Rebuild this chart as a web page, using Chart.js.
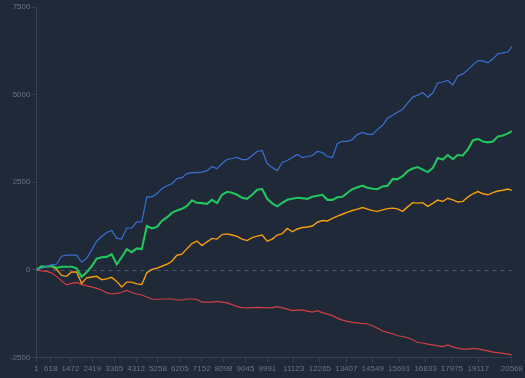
<!DOCTYPE html>
<html>
<head>
<meta charset="utf-8">
<script src="https://cdn.jsdelivr.net/npm/chart.js@4/dist/chart.umd.min.js"></script>
<style>
  html, body { margin: 0; padding: 0; background: #1f2937; }
  #wrap { width: 525px; height: 378px; }
</style>
</head>
<body>
<div id="wrap"><canvas id="c" width="525" height="378"></canvas></div>
<script>
const tradeNumbers = [1, 218, 435, 652, 869, 1086, 1303, 1520, 1737, 1954,
  2171, 2388, 2605, 2822, 3039, 3256, 3473, 3690, 3907, 4124,
  4341, 4558, 4775, 4992, 5209, 5426, 5643, 5860, 6077, 6294,
  6511, 6728, 6945, 7162, 7379, 7596, 7813, 8030, 8247, 8464,
  8681, 8898, 9115, 9332, 9549, 9766, 9983, 10200, 10417, 10634,
  10851, 11068, 11285, 11502, 11719, 11936, 12153, 12370, 12587, 12804,
  13021, 13238, 13455, 13672, 13889, 14106, 14323, 14540, 14757, 14974,
  15191, 15408, 15625, 15842, 16059, 16276, 16493, 16710, 16927, 17144,
  17361, 17578, 17795, 18012, 18229, 18446, 18663, 18880, 19097, 19314,
  19531, 19748, 19965, 20182, 20399, 20568];

const blueSeries = [0, 43, 101, 144, 158, 388, 417, 417, 417, 216,
  330, 560, 819, 948, 1063, 1121, 905, 877, 1193, 1193,
  1365, 1365, 2084, 2084, 2170, 2314, 2400, 2457, 2601, 2630,
  2745, 2773, 2773, 2788, 2831, 2946, 2888, 3032, 3147, 3176,
  3205, 3147, 3147, 3262, 3377, 3405, 3032, 2917, 2831, 3061,
  3118, 3205, 3291, 3205, 3233, 3262, 3377, 3348, 3233, 3205,
  3607, 3664, 3664, 3722, 3866, 3923, 3866, 3866, 4009, 4124,
  4325, 4411, 4498, 4584, 4756, 4929, 4986, 5058, 4929, 5044,
  5331, 5360, 5403, 5274, 5533, 5590, 5705, 5849, 5964, 5964,
  5906, 6021, 6165, 6193, 6222, 6366];

const greenSeries = [0, 101, 86, 115, 57, 86, 86, 86, 43, -201,
  -72, 101, 316, 359, 368, 445, 158, 359, 589, 503,
  609, 589, 1250, 1184, 1221, 1394, 1494, 1624, 1696, 1739,
  1825, 1983, 1911, 1903, 1882, 1997, 1903, 2141, 2227, 2199,
  2141, 2055, 2026, 2141, 2285, 2305, 2026, 1897, 1811, 1911,
  1997, 2026, 2055, 2041, 2026, 2084, 2112, 2141, 1997, 1997,
  2069, 2084, 2199, 2299, 2357, 2400, 2342, 2314, 2299, 2380,
  2400, 2587, 2587, 2673, 2817, 2888, 2931, 2860, 2788, 2903,
  3190, 3147, 3276, 3161, 3276, 3262, 3434, 3693, 3736, 3664,
  3636, 3664, 3808, 3831, 3894, 3960];

const orangeSeries = [0, 57, 92, 95, 14, -158, -187, -63, -63, -388,
  -230, -207, -187, -282, -259, -216, -331, -489, -351, -351,
  -402, -417, -86, 14, 43, 101, 158, 244, 417, 445,
  604, 747, 819, 690, 799, 897, 877, 1006, 1026, 992,
  954, 877, 833, 920, 963, 992, 819, 877, 992, 1029,
  1178, 1086, 1164, 1207, 1221, 1250, 1357, 1405, 1394, 1466,
  1529, 1586, 1644, 1693, 1730, 1776, 1733, 1690, 1667, 1710,
  1745, 1759, 1739, 1667, 1796, 1917, 1903, 1917, 1811, 1897,
  1989, 1949, 2041, 1997, 1934, 1954, 2075, 2170, 2233, 2170,
  2141, 2204, 2248, 2270, 2305, 2265];

const redSeries = [0, -29, -43, -86, -187, -316, -431, -388, -359, -417,
  -460, -489, -532, -575, -661, -690, -675, -647, -589, -647,
  -690, -719, -776, -833, -848, -833, -833, -833, -862, -862,
  -833, -833, -848, -920, -925, -925, -900, -920, -943, -992,
  -1049, -1078, -1084, -1078, -1072, -1078, -1084, -1078, -1049, -1086,
  -1121, -1164, -1150, -1144, -1178, -1207, -1164, -1221, -1265, -1308,
  -1380, -1437, -1474, -1500, -1515, -1532, -1546, -1595, -1667, -1747,
  -1788, -1825, -1882, -1903, -1940, -1997, -2075, -2089, -2121, -2141,
  -2170, -2190, -2141, -2199, -2236, -2265, -2265, -2242, -2256, -2285,
  -2314, -2351, -2362, -2385, -2408, -2429];

const xTickValues = [1, 618, 1472, 2419, 3365, 4312, 5258, 6205, 7152, 8098, 9045,
  9991, 11123, 12265, 13407, 14549, 15691, 16833, 17975, 19117, 20568];
const yTickValues = [-2500, 0, 2500, 5000, 7500];

function toPoints(vals) {
  return tradeNumbers.map((x, i) => ({ x: x, y: vals[i] }));
}

const axisColor = '#353f4f';
const textColor = '#65748a';

const zeroLine = {
  id: 'zeroLine',
  beforeDatasetsDraw(chart) {
    const y = chart.scales.y.getPixelForValue(0);
    const a = chart.chartArea;
    const ctx = chart.ctx;
    ctx.save();
    ctx.strokeStyle = '#4a5566';
    ctx.lineWidth = 1;
    ctx.setLineDash([4, 4]);
    ctx.beginPath();
    ctx.moveTo(a.left, Math.round(y) + 0.5);
    ctx.lineTo(a.right, Math.round(y) + 0.5);
    ctx.stroke();
    ctx.restore();
  }
};

new Chart(document.getElementById('c'), {
  type: 'line',
  data: {
    datasets: [
      { label: 'Blue', data: toPoints(blueSeries), borderColor: '#3a6fd2', borderWidth: 1.2 },
      { label: 'Green', data: toPoints(greenSeries), borderColor: '#22c55e', borderWidth: 2.1 },
      { label: 'Orange', data: toPoints(orangeSeries), borderColor: '#f59e0b', borderWidth: 1.4 },
      { label: 'Red', data: toPoints(redSeries), borderColor: '#d13f42', borderWidth: 1.2 }
    ]
  },
  options: {
    responsive: false,
    animation: false,
    layout: { padding: { left: 9, right: 12, top: 7, bottom: 2 } },
    elements: { point: { radius: 0 }, line: { tension: 0, fill: false } },
    plugins: { legend: { display: false }, tooltip: { enabled: false } },
    scales: {
      x: {
        type: 'linear',
        min: 1,
        max: 20568,
        afterBuildTicks(scale) { scale.ticks = xTickValues.map(v => ({ value: v })); },
        ticks: {
          autoSkip: false, maxRotation: 0, color: textColor, padding: 2,
          font: { family: 'Liberation Sans', size: 8 },
          callback: (v) => String(v)
        },
        grid: { drawOnChartArea: false, drawTicks: true, tickLength: 5, tickColor: axisColor },
        border: { color: axisColor }
      },
      y: {
        min: -2500,
        max: 7500,
        afterBuildTicks(scale) { scale.ticks = yTickValues.map(v => ({ value: v })); },
        ticks: {
          color: textColor, padding: 1,
          font: { family: 'Liberation Sans', size: 8 },
          callback: (v) => String(v)
        },
        grid: { drawOnChartArea: false, drawTicks: true, tickLength: 5, tickColor: axisColor },
        border: { color: axisColor }
      }
    }
  },
  plugins: [zeroLine]
});
</script>
</body>
</html>
